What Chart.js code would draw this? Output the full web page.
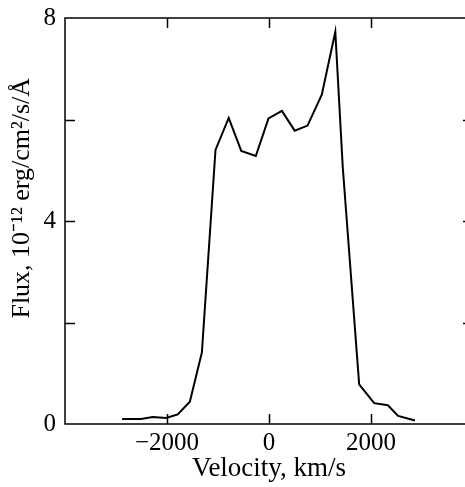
<!DOCTYPE html>
<html>
<head>
<meta charset="utf-8">
<script src="https://cdn.jsdelivr.net/npm/chart.js@4"></script>
<style>
  html, body { margin: 0; padding: 0; background: #fff; overflow: hidden; }
  #wrap { width: 477px; height: 487px; }
</style>
</head>
<body>
<div id="wrap"><canvas id="myChart" width="477" height="487"></canvas></div>
<script>
// velocity (km/s) and flux (1e-12 erg/cm2/s/A)
const velocity = [-2880, -2510, -2280, -2016, -1790, -1552, -1316, -1049, -790, -544, -259, -10, 253, 504, 756, 1035, 1300, 1447, 1768, 2062, 2330, 2532, 2862];
const flux = [0.10, 0.10, 0.14, 0.12, 0.19, 0.44, 1.41, 5.40, 6.03, 5.38, 5.28, 6.02, 6.17, 5.78, 5.88, 6.49, 7.73, 5.05, 0.78, 0.41, 0.37, 0.16, 0.07];
const xTicks = [-2000, 0, 2000];
const yTicks = [2, 4, 6];
const yLabels = [0, 4, 8];

const points = velocity.map((v, i) => ({ x: v, y: flux[i] }));

const tickFont = { family: 'Liberation Serif', size: 25 };
const titleFont = { family: 'Liberation Serif', size: 27 };

// frame + inward tick marks
const frameTicks = {
  id: 'frameTicks',
  afterDraw(chart) {
    const { ctx, chartArea: a, scales } = chart;
    ctx.save();
    ctx.strokeStyle = '#000';
    ctx.lineWidth = 1.5;
    ctx.strokeRect(a.left, a.top, a.right - a.left, a.bottom - a.top);
    ctx.beginPath();
    xTicks.forEach((v) => {
      const px = Math.round(scales.x.getPixelForValue(v)) + 0.5;
      ctx.moveTo(px, a.bottom); ctx.lineTo(px, a.bottom - 10);
      ctx.moveTo(px, a.top); ctx.lineTo(px, a.top + 10);
    });
    yTicks.forEach((v) => {
      const py = Math.round(scales.y.getPixelForValue(v)) + 0.5;
      ctx.moveTo(a.left, py); ctx.lineTo(a.left + 10, py);
      ctx.moveTo(a.right, py); ctx.lineTo(a.right - 10, py);
    });
    ctx.stroke();
    ctx.restore();
  }
};

const ctx = document.getElementById('myChart').getContext('2d');
new Chart(ctx, {
  type: 'scatter',
  data: {
    datasets: [{
      data: points,
      showLine: true,
      borderColor: '#000',
      borderWidth: 2,
      pointRadius: 0,
      tension: 0
    }]
  },
  options: {
    responsive: false,
    animation: false,
    plugins: { legend: { display: false }, tooltip: { enabled: false } },
    layout: { padding: { top: 18, right: 3, left: 0, bottom: 0 } },
    scales: {
      x: {
        type: 'linear',
        min: -4000,
        max: 4000,
        grid: { display: false, drawTicks: false },
        border: { display: false },
        ticks: {
          stepSize: 2000,
          autoSkip: false,
          maxRotation: 0,
          padding: 4,
          color: '#000',
          font: tickFont,
          callback: (v) => xTicks.includes(v) ? (v < 0 ? '\u2212' + Math.abs(v) : String(v)) : ''
        },
        title: {
          display: true,
          text: 'Velocity, km/s',
          color: '#000',
          font: titleFont,
          padding: { top: 0, bottom: 2 }
        },
        afterFit: (s) => { s.height = 63; }
      },
      y: {
        min: 0,
        max: 8,
        grid: { display: false, drawTicks: false },
        border: { display: false },
        ticks: {
          stepSize: 2,
          autoSkip: false,
          padding: 9,
          color: '#000',
          font: { family: 'Liberation Serif', size: 25, lineHeight: 0.6 },
          callback: (v) => yLabels.includes(v) ? String(v) : ''
        },
        title: {
          display: true,
          text: '       Flux, 10\u207B\u00B9\u00B2 erg/cm\u00B2/s/\u00C5',
          color: '#000',
          font: { family: 'Liberation Serif', size: 26 },
          padding: { top: 7, bottom: 0 }
        },
        afterFit: (s) => { s.width = 65; }
      }
    }
  },
  plugins: [frameTicks]
});
</script>
</body>
</html>
